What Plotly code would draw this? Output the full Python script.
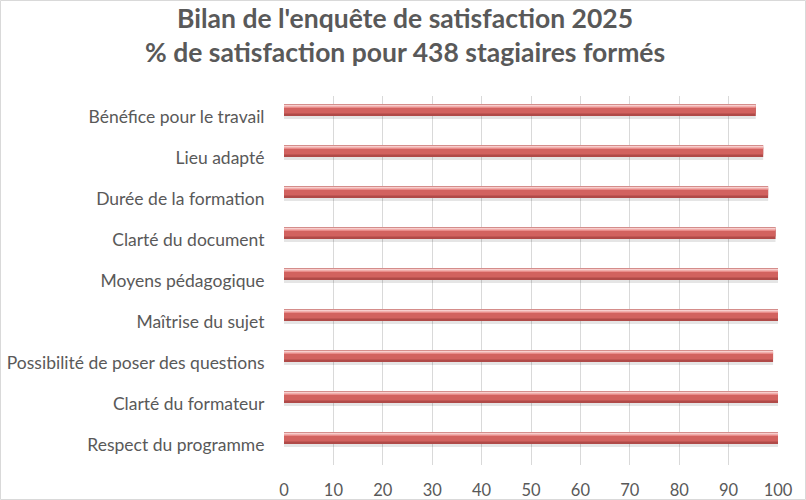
import plotly.graph_objects as go

categories = [
    "Respect du programme",
    "Clarté du formateur",
    "Possibilité de poser des questions",
    "Maîtrise du sujet",
    "Moyens pédagogique",
    "Clarté du document",
    "Durée de la formation",
    "Lieu adapté",
    "Bénéfice pour le travail",
]
satisfaction = [100, 100, 99, 100, 100, 99.5, 98, 97, 95.5]
x_ticks = [0, 10, 20, 30, 40, 50, 60, 70, 80, 90, 100]

title_lines = ["Bilan de l'enquête de satisfaction 2025",
               "% de satisfaction pour 438 stagiaires formés"]

FONT = "Lato"
TXT = "#595959"
W = 0.293
half = W / 2
LIFT = 0.158  # 3D depth: bars sit raised above the floor category centre

fig = go.Figure()
layers = [
    # (color, offset, width)
    ("rgba(0,0,0,0.10)", -half - 0.07, W),
    ("#b04a48", -half, W),
    ("#d2625f", -half + 0.06, W - 0.12),
    ("#e98c8a", half - 0.10, 0.05),
    ("#f8cfce", half - 0.06, 0.05),
]
for color, off, wid in layers:
    fig.add_trace(go.Bar(
        x=satisfaction, y=categories, orientation="h",
        marker=dict(color=color, line=dict(width=0)),
        offset=off + LIFT, width=wid, hoverinfo="skip", showlegend=False,
    ))

L, R, T, B = 284, 28, 96, 35
PW, PH = 806 - L - R, 500 - T - B
fig.update_layout(
    width=806, height=500,
    margin=dict(l=L, r=R, t=T, b=B, pad=0, autoexpand=False),
    paper_bgcolor="white", plot_bgcolor="white",
    barmode="overlay",
    font=dict(family=FONT, color=TXT),
    xaxis=dict(
        range=[0, 100], tickvals=x_ticks, showgrid=True, automargin=False,
        gridcolor="#d9d9d9", gridwidth=1, zeroline=False, showline=False,
        ticks="outside", ticklen=10.5, tickcolor="rgba(0,0,0,0)",
        tickfont=dict(family=FONT, size=16.5, color=TXT),
    ),
    yaxis=dict(
        categoryorder="array", categoryarray=categories, automargin=False,
        range=[-0.5, len(categories) - 0.5],
        showgrid=False, zeroline=False, showline=False,
        ticks="outside", ticklen=15, tickcolor="rgba(0,0,0,0)",
        tickfont=dict(family=FONT, size=17.5, color=TXT),
    ),
    annotations=[dict(
        text="<br>".join(title_lines), showarrow=False,
        xref="paper", yref="paper",
        x=(405 - L) / PW, xanchor="center",
        y=(PH + T) / PH, yanchor="top",
        font=dict(family=FONT, size=26.5, color=TXT, weight="bold"),
    )],
    shapes=[dict(
        type="rect", xref="paper", yref="paper",
        x0=(0.5 - L) / PW, x1=(805.5 - L) / PW,
        y0=-(B - 0.5) / PH, y1=(PH + T - 0.5) / PH,
        line=dict(color="#d9d9d9", width=1), fillcolor="rgba(0,0,0,0)",
        layer="below",
    )],
)

fig.write_html("out.html",
               config={"displayModeBar": False},
               post_script="document.body.style.margin='0';")
